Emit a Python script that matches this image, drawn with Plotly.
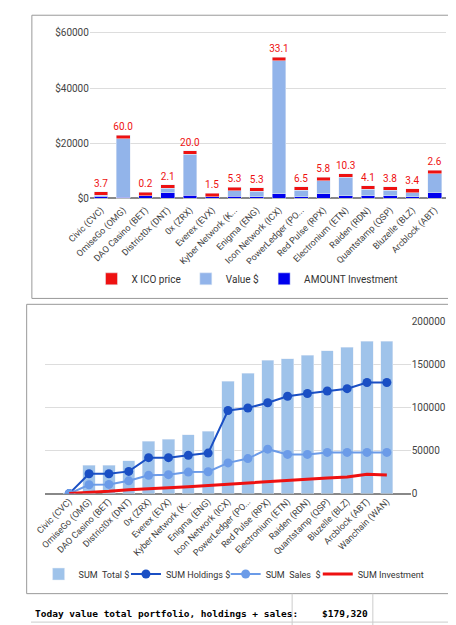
import plotly.graph_objects as go

coins_top = ['Civic (CVC)', 'OmiseGo (OMG)', 'DAO Casino (BET)', 'District0x (DNT)', '0x (ZRX)',
             'Everex (EVX)', 'Kyber Network (K...', 'Enigma (ENG)', 'Icon Network (ICX)',
             'PowerLedger (PO...', 'Red Pulse (RPX)', 'Electronium (ETN)', 'Raiden (RDN)',
             'Quantstamp (QSP)', 'Bluzelle (BLZ)', 'Arcblock (ABT)']
invest_amt = [600, 300, 800, 2000, 1000, 400, 600, 500, 1500, 500, 1500, 900, 900, 800, 500, 2000]
value_total = [1000, 21600, 800, 3500, 15900, 400, 2600, 2400, 49900, 2800, 6300, 7500, 3200, 2800, 2000, 8800]
x_ico = [3.7, 60.0, 0.2, 2.1, 20.0, 1.5, 5.3, 5.3, 33.1, 6.5, 5.8, 10.3, 4.1, 3.8, 3.4, 2.6]
cap = 1300

coins_bot = coins_top + ['Wanchain (WAN)']
sum_total = [1000, 32800, 32800, 38100, 61000, 63200, 68600, 72400, 130700, 140200, 155400,
             157400, 161200, 166500, 170700, 177500, 177500]
sum_hold = [0, 23200, 23200, 25900, 41900, 41900, 44600, 47200, 96800, 99800, 105900,
            113500, 116600, 119600, 122300, 129500, 129500]
sum_sales = [0, 10300, 10700, 14900, 21300, 22100, 25100, 25500, 35800, 40800, 51800,
             45700, 45700, 48000, 48000, 48000, 48000]
sum_invest = [0, 1100, 2700, 4600, 6100, 6900, 8000, 9500, 11400, 12600, 14500,
              16000, 17100, 18300, 19400, 22500, 21700]

value_part = [v - i for v, i in zip(value_total, invest_amt)]
font = dict(family='Roboto, Arial', size=10, color='#444')

fig = go.Figure()
fig.add_trace(go.Bar(x=coins_top, y=invest_amt, name='AMOUNT Investment', marker_color='#0000ee',
                     legendrank=3, xaxis='x', yaxis='y'))
fig.add_trace(go.Bar(x=coins_top, y=value_part, name='Value $', marker_color='#92b4ea',
                     legendrank=2, xaxis='x', yaxis='y'))
fig.add_trace(go.Bar(x=coins_top, y=[cap] * len(coins_top), name='X ICO price', marker_color='#ee1111',
                     text=[f'{v:.1f}' for v in x_ico], textposition='outside', constraintext='none',
                     textangle=0, textfont=dict(color='#ee1111', size=10), cliponaxis=False,
                     legendrank=1, xaxis='x', yaxis='y'))

fig.add_trace(go.Bar(x=coins_bot, y=sum_total, name='SUM  Total $', marker_color='#9fc3ea',
                     width=0.62, xaxis='x2', yaxis='y2', legend='legend2'))
fig.add_trace(go.Scatter(x=coins_bot, y=sum_hold, name='SUM Holdings $', mode='lines+markers',
                         line=dict(color='#1a4fc4', width=2), marker=dict(size=9, color='#1a4fc4'),
                         xaxis='x2', yaxis='y2', legend='legend3'))
fig.add_trace(go.Scatter(x=coins_bot, y=sum_sales, name='SUM  Sales  $', mode='lines+markers',
                         line=dict(color='#6b9be8', width=2), marker=dict(size=9, color='#6b9be8'),
                         xaxis='x2', yaxis='y2', legend='legend4'))
fig.add_trace(go.Scatter(x=coins_bot, y=sum_invest, name='SUM Investment', mode='lines',
                         line=dict(color='#ee1111', width=3),
                         xaxis='x2', yaxis='y2', legend='legend5'))

shapes = [
    dict(type='rect', xref='paper', yref='paper', x0=0.002, x1=0.998, y0=1 - 290 / 625, y1=0.998,
         line=dict(color='#999', width=1)),
    dict(type='rect', xref='paper', yref='paper', x0=-0.01, x1=0.995, y0=1 - 591 / 625, y1=1 - 296 / 625,
         line=dict(color='#999', width=1)),
    dict(type='line', xref='paper', yref='paper', x0=0, x1=1, y0=1 - 620 / 625, y1=1 - 620 / 625,
         line=dict(color='#ccc', width=1)),
    dict(type='line', xref='paper', yref='paper', x0=275 / 456, x1=275 / 456, y0=0, y1=1 - 591 / 625,
         line=dict(color='#ccc', width=1)),
    dict(type='line', xref='paper', yref='paper', x0=360 / 456, x1=360 / 456, y0=0, y1=1 - 591 / 625,
         line=dict(color='#ccc', width=1)),
]

bottom_legend = dict(orientation='h', xanchor='left', y=1 - 571 / 625, yanchor='middle',
                     itemwidth=30, font=dict(size=9, color='#333'), bgcolor='rgba(0,0,0,0)')

fig.update_layout(
    width=456, height=625, margin=dict(l=0, r=0, t=0, b=0),
    paper_bgcolor='white', plot_bgcolor='white', font=font,
    barmode='stack', bargap=0.38, shapes=shapes, uniformtext=dict(mode=False),
    xaxis=dict(domain=[0.136, 0.958], tickangle=-45, tickfont=dict(size=9), anchor='y',
               showgrid=False),
    yaxis=dict(domain=[0.693, 0.978], range=[-1500, 62000], tickvals=[0, 20000, 40000, 60000],
               ticktext=['$0', '$20000', '$40000', '$60000'], gridcolor='#ddd', zeroline=True,
               zerolinecolor='#888', anchor='x'),
    xaxis2=dict(domain=[0.033, 0.877], tickangle=-45, tickfont=dict(size=9), anchor='y2',
                showgrid=False),
    yaxis2=dict(domain=[0.2176, 0.4976], range=[0, 200000], side='right', anchor='x2',
                tickvals=[0, 50000, 100000, 150000, 200000], tickformat='d', gridcolor='#ddd',
                zeroline=True, zerolinecolor='#888'),
    legend=dict(orientation='h', x=0.5, xanchor='center', y=1 - 270 / 625, yanchor='middle',
                traceorder='normal', font=dict(size=10, color='#333')),
    legend2=dict(bottom_legend, x=8 / 456),
    legend3=dict(bottom_legend, x=100 / 456),
    legend4=dict(bottom_legend, x=205 / 456),
    legend5=dict(bottom_legend, x=302 / 456),
    annotations=[
        dict(text='<b>Today value total portfolio, holdings + sales:</b>', xref='paper', yref='paper',
             x=0.005, y=1 - 611 / 625, xanchor='left', yanchor='middle', showarrow=False,
             font=dict(family='DejaVu Sans Mono', size=9.5, color='#000')),
        dict(text='<b>$179,320</b>', xref='paper', yref='paper',
             x=357 / 456, y=1 - 611 / 625, xanchor='right', yanchor='middle', showarrow=False,
             font=dict(family='DejaVu Sans Mono', size=9.5, color='#000')),
    ],
)

fig.write_html('out.html')
